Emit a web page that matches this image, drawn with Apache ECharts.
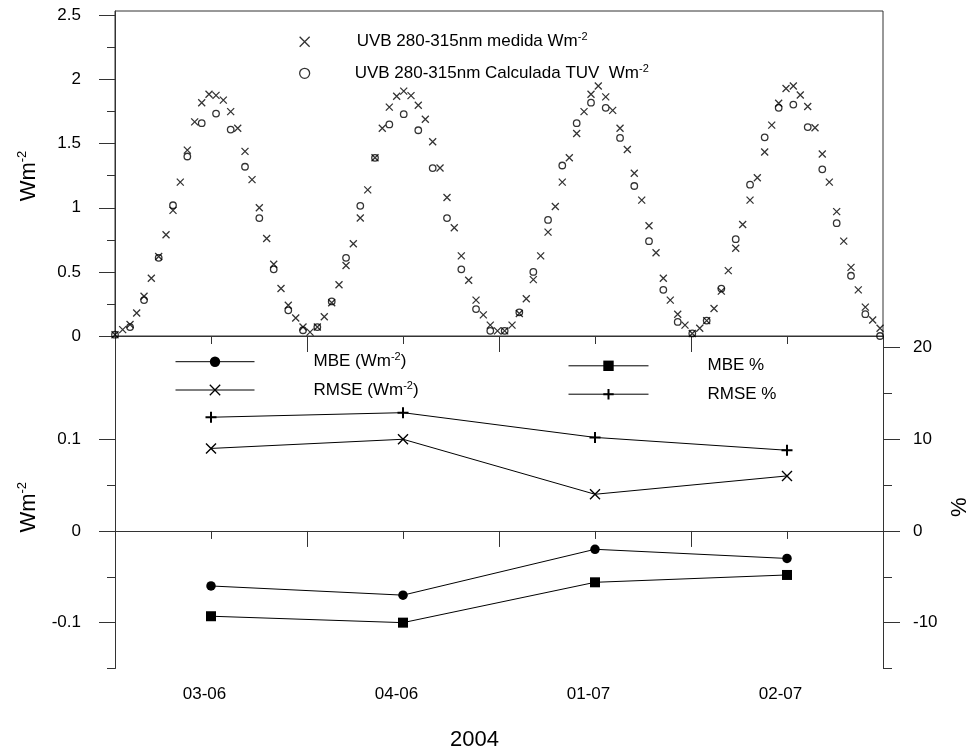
<!DOCTYPE html>
<html>
<head>
<meta charset="utf-8">
<script src="https://cdn.jsdelivr.net/npm/echarts@6/dist/echarts.min.js"></script>
<style>html,body{margin:0;padding:0;background:#fff}#c{width:966px;height:754px}</style>
</head>
<body>
<div id="c"></div>
<script>
// hours since start of the four concatenated days (x of each sample)
const hours = [
  0,0.96,1.88,2.71,3.63,4.54,5.46,6.38,7.25,8.16,9.04,9.96,10.84,11.75,12.63,13.54,14.46,15.34,16.25,17.13,18.04,18.96,19.84,20.75,21.66,22.59,23.5,
  24.38,25.29,26.16,27.09,28,28.88,29.79,30.66,31.59,32.5,33.41,34.29,35.21,36.09,37,37.91,38.79,39.71,40.63,41.5,42.41,43.29,44.21,45.13,46.04,46.91,47.81,
  48.71,49.63,50.54,51.41,52.29,53.21,54.13,55.04,55.91,56.79,57.71,58.63,59.5,60.41,61.34,62.21,63.13,64.04,64.91,65.84,66.75,67.63,68.54,69.41,70.34,71.25,
  72.16,73.09,73.96,74.88,75.79,76.66,77.59,78.46,79.38,80.29,81.21,82.09,82.96,83.88,84.79,85.66,86.59,87.5,88.41,89.29,90.21,91.09,92,92.91,93.79,94.71,95.63
];
// UVB measured (W m-2)
const measured = [
  0.01,0.05,0.09,0.18,0.31,0.45,0.62,0.79,0.98,1.20,1.45,1.67,1.82,1.885,1.877,1.84,1.75,1.62,1.44,1.22,1.00,0.76,0.56,0.37,0.24,0.14,0.07,
  0.03,0.07,0.15,0.26,0.40,0.55,0.72,0.92,1.14,1.39,1.62,1.785,1.87,1.91,1.875,1.80,1.69,1.515,1.31,1.08,0.845,0.625,0.435,0.28,0.165,0.085,0.04,
  0.04,0.085,0.175,0.29,0.44,0.625,0.81,1.01,1.20,1.39,1.58,1.75,1.885,1.95,1.865,1.76,1.62,1.455,1.27,1.06,0.86,0.65,0.45,0.28,0.17,0.085,
  0.02,0.06,0.12,0.215,0.35,0.51,0.685,0.87,1.06,1.235,1.435,1.645,1.815,1.93,1.95,1.88,1.79,1.625,1.42,1.20,0.97,0.74,0.535,0.36,0.225,0.125,0.06
];
// UVB calculated with TUV (W m-2), null where no calculated sample
const calculated = [
  0.01,null,0.07,null,0.28,null,0.61,null,1.02,null,1.40,null,1.66,null,1.735,null,1.61,null,1.32,null,0.92,null,0.52,null,0.20,null,0.045,
  null,0.07,null,0.27,null,0.61,null,1.015,null,1.39,null,1.65,null,1.73,null,1.605,null,1.31,null,0.92,null,0.52,null,0.21,null,0.04,null,
  0.04,null,0.185,null,0.50,null,0.905,null,1.33,null,1.66,null,1.82,null,1.78,null,1.545,null,1.17,null,0.74,null,0.36,null,0.11,null,
  0.02,null,0.12,null,0.37,null,0.755,null,1.18,null,1.55,null,1.78,null,1.805,null,1.63,null,1.30,null,0.88,null,0.47,null,0.17,null,0.0
];
const dayLabels = ['03-06','04-06','01-07','02-07'];
const dayCenters = [12,36,60,84];
const mbeW = [-0.06,-0.07,-0.02,-0.03];
const rmseW = [0.09,0.10,0.04,0.06];
const mbePct = [-9.3,-10.0,-5.6,-4.8];
const rmsePct = [12.4,12.9,10.2,8.8];
const topTicks = [0,0.5,1,1.5,2,2.5];
const topMinorTicks = [0.25,0.75,1.25,1.75,2.25];
const leftTicks = [-0.1,0,0.1];
const leftMinorTicks = [-0.15,-0.05,0.05];
const rightTicks = [-10,0,10,20];
const rightMinorTicks = [-15,-5,5,15];

const FONT = 'Liberation Sans, Arial, sans-serif';
const AX = '#333';
const CROSS = 'path://M0,0L10,10M10,0L0,10';
const PLUS = 'path://M5,0L5,10M0,5L10,5';

const N_MEAS = 'UVB 280-315nm medida Wm-2';
const N_CALC = 'UVB 280-315nm Calculada TUV  Wm-2';
const N_MBE = 'MBE (Wm-2)';
const N_RMSE = 'RMSE (Wm-2)';
const N_MBEP = 'MBE %';
const N_RMSEP = 'RMSE %';

function richName(name) {
  const i = name.lastIndexOf('Wm-2');
  if (i < 0) return '{t|' + name + '}';
  const j = i + 2;
  let s = '{t|' + name.slice(0, j) + '}{s|-2}';
  if (j + 2 < name.length) s += '{u|' + name.slice(j + 2) + '}';
  return s;
}

function mkLegend(item, left, cy, iw, ih, gap) {
  return {
    data: [item], left: left, top: cy - 10, padding: 0, itemGap: 0,
    itemWidth: iw, itemHeight: ih, selectedMode: false,
    lineStyle: { width: 1 },
    formatter: richName,
    textStyle: {
      color: '#000', fontFamily: FONT, fontSize: 17,
      rich: {
        t: { fontSize: 17, lineHeight: 20, color: '#000', fontFamily: FONT, padding: [0, 0, 0, gap] },
        u: { fontSize: 17, lineHeight: 20, color: '#000', fontFamily: FONT },
        s: { fontSize: 11, lineHeight: 13, verticalAlign: 'top', color: '#000', fontFamily: FONT }
      }
    }
  };
}

const axisNameRich = {
  a: { fontSize: 22, lineHeight: 26, color: '#000', fontFamily: FONT },
  s: { fontSize: 13, lineHeight: 15, verticalAlign: 'top', color: '#000', fontFamily: FONT }
};
const labelStyle = { color: '#000', fontSize: 17, fontFamily: FONT };

const chart = echarts.init(document.getElementById('c'), null, { renderer: 'canvas' });
const option = {
  animation: false,
  backgroundColor: '#fff',
  grid: [
    { left: 115, top: 11, width: 768, height: 325, show: true, borderColor: AX, borderWidth: 1,
      backgroundColor: 'transparent', outerBoundsMode: 'none', containLabel: false },
    { left: 115, top: 336, width: 768, height: 332.5, outerBoundsMode: 'none', containLabel: false }
  ],
  xAxis: [
    { type: 'value', gridIndex: 0, min: 0, max: 96, interval: 24,
      axisLine: { show: true, lineStyle: { color: AX } },
      axisTick: { show: true, length: 16, lineStyle: { color: AX } },
      minorTick: { show: true, splitNumber: 2, length: 8, lineStyle: { color: AX } },
      axisLabel: { show: false }, splitLine: { show: false }, minorSplitLine: { show: false } },
    { type: 'value', gridIndex: 1, min: 0, max: 96, interval: 24,
      axisLine: { show: true, lineStyle: { color: AX } },
      axisTick: { show: true, length: 16, lineStyle: { color: AX } },
      minorTick: { show: true, splitNumber: 2, length: 8, lineStyle: { color: AX } },
      axisLabel: { show: true, customValues: dayCenters, margin: 17, padding: [0, 13, 0, 0],
        formatter: v => dayLabels[dayCenters.indexOf(v)] || '', ...labelStyle },
      splitLine: { show: false }, minorSplitLine: { show: false },
      name: '2004', nameLocation: 'middle', nameGap: 60,
      nameTextStyle: { fontSize: 22, color: '#000', fontFamily: FONT, padding: [0, 49, 0, 0] } }
  ],
  yAxis: [
    { type: 'value', gridIndex: 0, min: 0, max: 2.535, position: 'left',
      axisLine: { show: true, lineStyle: { color: AX } },
      axisTick: { show: true, length: 16, customValues: topTicks, lineStyle: { color: AX } },
      axisLabel: { show: true, customValues: topTicks, margin: 34, ...labelStyle },
      splitLine: { show: false },
      name: '{a|Wm}{s|-2}', nameLocation: 'middle', nameRotate: 90, nameGap: 73,
      nameTextStyle: { rich: axisNameRich, padding: [0, 5, 0, 0] } },
    { type: 'value', gridIndex: 0, min: 0, max: 2.535, position: 'left',
      axisLine: { show: false },
      axisTick: { show: true, length: 8, customValues: topMinorTicks, lineStyle: { color: AX } },
      axisLabel: { show: false }, splitLine: { show: false } },
    { type: 'value', gridIndex: 1, min: -0.15, max: 0.2126, position: 'left',
      axisLine: { show: true, lineStyle: { color: AX } },
      axisTick: { show: true, length: 16, customValues: leftTicks, lineStyle: { color: AX } },
      axisLabel: { show: true, customValues: leftTicks, margin: 34, ...labelStyle },
      splitLine: { show: false },
      name: '{a|Wm}{s|-2}', nameLocation: 'middle', nameRotate: 90, nameGap: 73,
      nameTextStyle: { rich: axisNameRich, padding: [0, 10, 0, 0] } },
    { type: 'value', gridIndex: 1, min: -0.15, max: 0.2126, position: 'left',
      axisLine: { show: false },
      axisTick: { show: true, length: 8, customValues: leftMinorTicks, lineStyle: { color: AX } },
      axisLabel: { show: false }, splitLine: { show: false } },
    { type: 'value', gridIndex: 1, min: -15, max: 21.26, position: 'right',
      axisLine: { show: true, lineStyle: { color: AX } },
      axisTick: { show: true, length: 17, customValues: rightTicks, lineStyle: { color: AX } },
      axisLabel: { show: true, customValues: rightTicks, margin: 30, ...labelStyle },
      splitLine: { show: false },
      name: '%', nameLocation: 'middle', nameRotate: 90, nameGap: 61,
      nameTextStyle: { fontSize: 22, color: '#000', fontFamily: FONT, padding: [0, 10, 0, 0] } },
    { type: 'value', gridIndex: 1, min: -15, max: 21.26, position: 'right',
      axisLine: { show: false },
      axisTick: { show: true, length: 9, customValues: rightMinorTicks, lineStyle: { color: AX } },
      axisLabel: { show: false }, splitLine: { show: false } }
  ],
  legend: [
    mkLegend({ name: N_MEAS, itemStyle: { borderWidth: 1.3 } }, 299, 41.7, 10, 10, 42),
    mkLegend({ name: N_CALC, itemStyle: { borderWidth: 1.3 } }, 299, 73.3, 10, 10, 40),
    mkLegend({ name: N_MBE, itemStyle: { borderWidth: 0 } }, 175, 361.7, 79, 13, 54),
    mkLegend({ name: N_RMSE, itemStyle: { borderWidth: 1.3 } }, 175, 390, 79, 13, 54),
    mkLegend({ name: N_MBEP, itemStyle: { borderWidth: 0 } }, 568, 367.3, 80, 13, 54),
    mkLegend({ name: N_RMSEP, itemStyle: { borderWidth: 2 } }, 568, 395.7, 80, 13, 54)
  ],
  series: [
    { name: N_MEAS, type: 'scatter', xAxisIndex: 0, yAxisIndex: 0,
      data: hours.map((h, i) => [h, measured[i]]),
      symbol: CROSS, symbolSize: 7,
      itemStyle: { color: '#000', borderColor: '#000', borderWidth: 1.3 } },
    { name: N_CALC, type: 'scatter', xAxisIndex: 0, yAxisIndex: 0,
      data: hours.map((h, i) => [h, calculated[i]]).filter(d => d[1] !== null),
      symbol: 'circle', symbolSize: 6.5,
      itemStyle: { color: 'rgba(0,0,0,0)', borderColor: '#000', borderWidth: 1.3 } },
    { name: N_MBE, type: 'line', xAxisIndex: 1, yAxisIndex: 2,
      data: dayCenters.map((x, i) => [x, mbeW[i]]),
      symbol: 'circle', symbolSize: 9.5, showSymbol: true,
      lineStyle: { color: '#000', width: 1 }, itemStyle: { color: '#000', borderWidth: 0 } },
    { name: N_RMSE, type: 'line', xAxisIndex: 1, yAxisIndex: 2,
      data: dayCenters.map((x, i) => [x, rmseW[i]]),
      symbol: CROSS, symbolSize: 10, showSymbol: true,
      lineStyle: { color: '#000', width: 1 }, itemStyle: { color: '#000', borderColor: '#000', borderWidth: 1.4 } },
    { name: N_MBEP, type: 'line', xAxisIndex: 1, yAxisIndex: 4,
      data: dayCenters.map((x, i) => [x, mbePct[i]]),
      symbol: 'rect', symbolSize: 10, showSymbol: true,
      lineStyle: { color: '#000', width: 1 }, itemStyle: { color: '#000', borderWidth: 0 } },
    { name: N_RMSEP, type: 'line', xAxisIndex: 1, yAxisIndex: 4,
      data: dayCenters.map((x, i) => [x, rmsePct[i]]),
      symbol: PLUS, symbolSize: 11, showSymbol: true,
      lineStyle: { color: '#000', width: 1 }, itemStyle: { color: '#000', borderColor: '#000', borderWidth: 2 } }
  ]
};
chart.setOption(option);
</script>
</body>
</html>
